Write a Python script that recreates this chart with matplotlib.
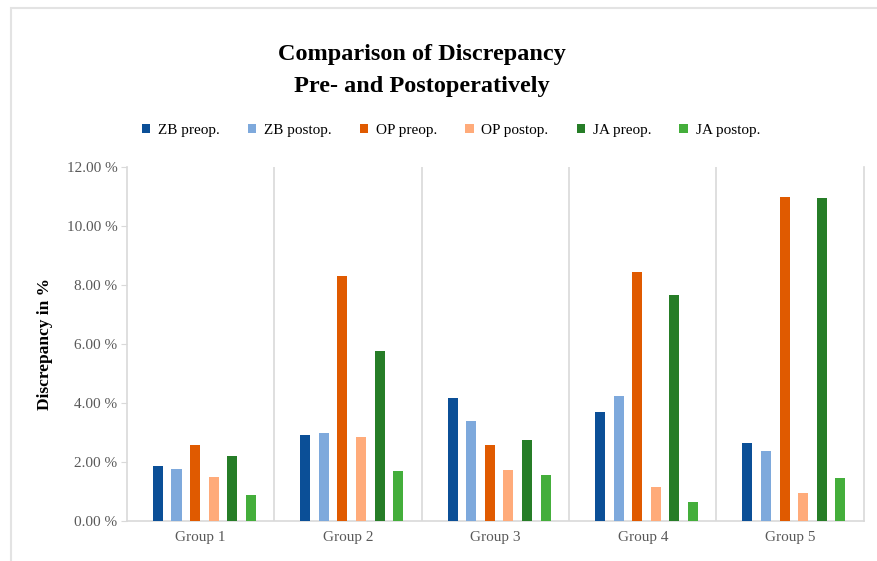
import numpy as np
import matplotlib.pyplot as plt
from matplotlib.patches import Rectangle

# 组别与各测量系列
groups = ['Group 1', 'Group 2', 'Group 3', 'Group 4', 'Group 5']
series_names = ['ZB preop.', 'ZB postop.', 'OP preop.', 'OP postop.', 'JA preop.', 'JA postop.']
zb_pre = [1.87, 2.92, 4.18, 3.71, 2.65]
zb_post = [1.76, 2.99, 3.38, 4.23, 2.38]
op_pre = [2.58, 8.31, 2.58, 8.43, 10.98]
op_post = [1.50, 2.85, 1.73, 1.14, 0.96]
ja_pre = [2.21, 5.76, 2.74, 7.65, 10.95]
ja_post = [0.87, 1.71, 1.57, 0.65, 1.45]
yticks = [0, 2, 4, 6, 8, 10, 12]

colors = ['#0b4f97', '#7ea9dc', '#e05a00', '#ffab7a', '#267d27', '#44ae3b']

plt.rcParams['font.family'] = ['Liberation Serif', 'DejaVu Serif']

fig = plt.figure(figsize=(8.77, 5.61), dpi=100)
ax = fig.add_axes([0.1448, 0.0713, 0.8402, 0.6310])

# 外框
fig.patches.append(Rectangle((0.013, -0.01), 1.0, 0.996, transform=fig.transFigure,
                             fill=False, edgecolor='#e3e3e3', linewidth=1.5))

x = np.arange(len(groups))
step = 0.126
width = 0.068
all_series = [zb_pre, zb_post, op_pre, op_post, ja_pre, ja_post]
for i, (vals, name, c) in enumerate(zip(all_series, series_names, colors)):
    ax.bar(x + (i - 2.5) * step + 0.025, vals, width, color=c, label=name, zorder=3)

ax.set_xlim(-0.5, len(groups) - 0.5)
ax.set_ylim(0, 12)
ax.set_yticks(yticks)
ax.set_yticklabels(['%.2f %%' % v for v in yticks], color='#595959', fontsize=11)
ax.set_xticks(x)
ax.set_xticklabels(groups, color='#595959', fontsize=11)
ax.tick_params(axis='x', length=0, pad=7)
ax.tick_params(axis='y', length=4, color='#d9d9d9', pad=3)

# 组间分隔线
for b in np.arange(0.5, len(groups) - 0.5):
    ax.axvline(b, color='#d9d9d9', linewidth=1.2, zorder=1)

for s in ['left', 'right', 'bottom']:
    ax.spines[s].set_color('#d9d9d9')
    ax.spines[s].set_linewidth(1.2)
ax.spines['top'].set_visible(False)

ax.set_ylabel('Discrepancy in %', fontsize=12.5, fontweight='bold', labelpad=10)

fig.text(0.481, 0.874, 'Comparison of Discrepancy\nPre- and Postoperatively',
         ha='center', va='center', fontsize=17.5, fontweight='bold', linespacing=1.65)

fig.legend(loc='center', bbox_to_anchor=(0.514, 0.768), ncol=6, frameon=False,
           fontsize=11, handlelength=0.55, handleheight=0.55, columnspacing=1.85,
           handletextpad=0.5)

fig.savefig('out.png', dpi=100)
